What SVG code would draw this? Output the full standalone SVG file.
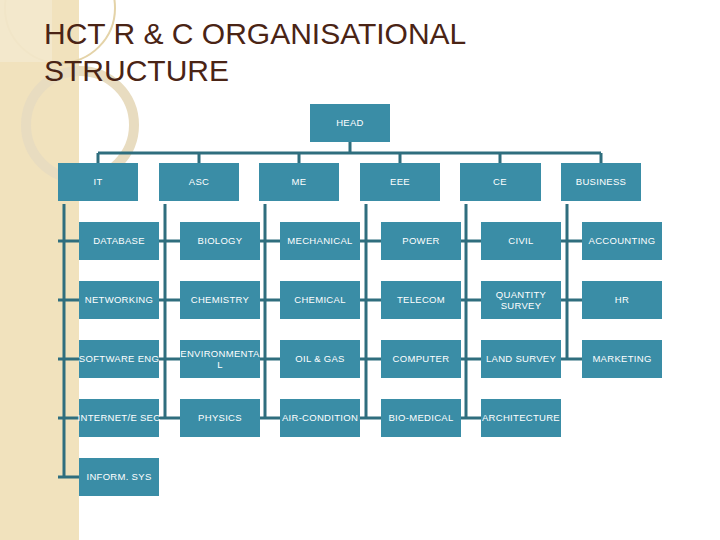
<svg xmlns="http://www.w3.org/2000/svg" width="720" height="540" viewBox="0 0 720 540">
<style>
.b{fill:#3a8da6}
.t{fill:#fff;font-family:"Liberation Sans",Arial,sans-serif;font-size:9.5px;text-anchor:middle;letter-spacing:0.3px}
.l{stroke:#2f6e7e;stroke-width:3;fill:none}
</style>
<rect width="720" height="540" fill="#fff"/>
<rect width="79" height="540" fill="#f1e2bd"/>
<g fill="none" stroke="#e4d3a8" stroke-width="2">
<circle cx="60" cy="8" r="55"/>
<circle cx="80" cy="125" r="54" stroke="#e8dcc0" stroke-width="10"/>
</g>
<rect x="0" y="0" width="52" height="62" fill="#f4ead0" opacity="0.8"/>
<text x="44" y="44" font-family="'Liberation Sans',Arial,sans-serif" font-size="30" fill="#4a2415">HCT R &amp; C ORGANISATIONAL</text>
<text x="44" y="81" font-family="'Liberation Sans',Arial,sans-serif" font-size="30" fill="#4a2415">STRUCTURE</text>
<g id="connectors" class="l">
<path d="M350 142V153M98 153H601M98 153V163M199 153V163M299 153V163M400 153V163M500 153V163M601 153V163"/>
<path d="M64 204V477M58 241H79M58 300H79M58 359H79M58 418H79M58 477H79"/>
<path d="M165 204V418M159 241H180M159 300H180M159 359H180M159 418H180"/>
<path d="M265 204V418M259 241H280M259 300H280M259 359H280M259 418H280"/>
<path d="M366 204V418M360 241H381M360 300H381M360 359H381M360 418H381"/>
<path d="M466 204V418M460 241H481M460 300H481M460 359H481M460 418H481"/>
<path d="M567 204V359M561 241H582M561 300H582M561 359H582"/>
</g>
<g id="head"><rect class="b" x="310" y="104" width="80" height="38"/><text class="t" x="350" y="126">HEAD</text></g>
<g id="it"><rect class="b" x="58" y="163" width="80" height="38"/><text class="t" x="98" y="185">IT</text></g>
<g id="asc"><rect class="b" x="159" y="163" width="80" height="38"/><text class="t" x="199" y="185">ASC</text></g>
<g id="me"><rect class="b" x="259" y="163" width="80" height="38"/><text class="t" x="299" y="185">ME</text></g>
<g id="eee"><rect class="b" x="360" y="163" width="80" height="38"/><text class="t" x="400" y="185">EEE</text></g>
<g id="ce"><rect class="b" x="460" y="163" width="81" height="38"/><text class="t" x="500" y="185">CE</text></g>
<g id="business"><rect class="b" x="561" y="163" width="80" height="38"/><text class="t" x="601" y="185">BUSINESS</text></g>
<g id="database"><rect class="b" x="79" y="222" width="80" height="38"/><text class="t" x="119" y="244">DATABASE</text></g>
<g id="networking"><rect class="b" x="79" y="281" width="80" height="38"/><text class="t" x="119" y="303">NETWORKING</text></g>
<g id="softeng"><rect class="b" x="79" y="340" width="80" height="38"/><text class="t" x="119" y="362">SOFTWARE ENG</text></g>
<g id="internet"><rect class="b" x="79" y="399" width="80" height="38"/><text class="t" x="119" y="421">INTERNET/E SEC</text></g>
<g id="inform"><rect class="b" x="79" y="458" width="80" height="38"/><text class="t" x="119" y="480">INFORM. SYS</text></g>
<g id="biology"><rect class="b" x="180" y="222" width="80" height="38"/><text class="t" x="220" y="244">BIOLOGY</text></g>
<g id="chemistry"><rect class="b" x="180" y="281" width="80" height="38"/><text class="t" x="220" y="303">CHEMISTRY</text></g>
<g id="environmental"><rect class="b" x="180" y="340" width="80" height="38"/><text class="t" x="220" y="357">ENVIRONMENTA</text><text class="t" x="220" y="368">L</text></g>
<g id="physics"><rect class="b" x="180" y="399" width="80" height="38"/><text class="t" x="220" y="421">PHYSICS</text></g>
<g id="mechanical"><rect class="b" x="280" y="222" width="80" height="38"/><text class="t" x="320" y="244">MECHANICAL</text></g>
<g id="chemical"><rect class="b" x="280" y="281" width="80" height="38"/><text class="t" x="320" y="303">CHEMICAL</text></g>
<g id="oilgas"><rect class="b" x="280" y="340" width="80" height="38"/><text class="t" x="320" y="362">OIL &amp; GAS</text></g>
<g id="aircon"><rect class="b" x="280" y="399" width="80" height="38"/><text class="t" x="320" y="421">AIR-CONDITION</text></g>
<g id="power"><rect class="b" x="381" y="222" width="80" height="38"/><text class="t" x="421" y="244">POWER</text></g>
<g id="telecom"><rect class="b" x="381" y="281" width="80" height="38"/><text class="t" x="421" y="303">TELECOM</text></g>
<g id="computer"><rect class="b" x="381" y="340" width="80" height="38"/><text class="t" x="421" y="362">COMPUTER</text></g>
<g id="biomedical"><rect class="b" x="381" y="399" width="80" height="38"/><text class="t" x="421" y="421">BIO-MEDICAL</text></g>
<g id="civil"><rect class="b" x="481" y="222" width="80" height="38"/><text class="t" x="521" y="244">CIVIL</text></g>
<g id="qs"><rect class="b" x="481" y="281" width="80" height="38"/><text class="t" x="521" y="298">QUANTITY</text><text class="t" x="521" y="309">SURVEY</text></g>
<g id="landsurvey"><rect class="b" x="481" y="340" width="80" height="38"/><text class="t" x="521" y="362">LAND SURVEY</text></g>
<g id="architecture"><rect class="b" x="481" y="399" width="80" height="38"/><text class="t" x="521" y="421">ARCHITECTURE</text></g>
<g id="accounting"><rect class="b" x="582" y="222" width="80" height="38"/><text class="t" x="622" y="244">ACCOUNTING</text></g>
<g id="hr"><rect class="b" x="582" y="281" width="80" height="38"/><text class="t" x="622" y="303">HR</text></g>
<g id="marketing"><rect class="b" x="582" y="340" width="80" height="38"/><text class="t" x="622" y="362">MARKETING</text></g>
</svg>
